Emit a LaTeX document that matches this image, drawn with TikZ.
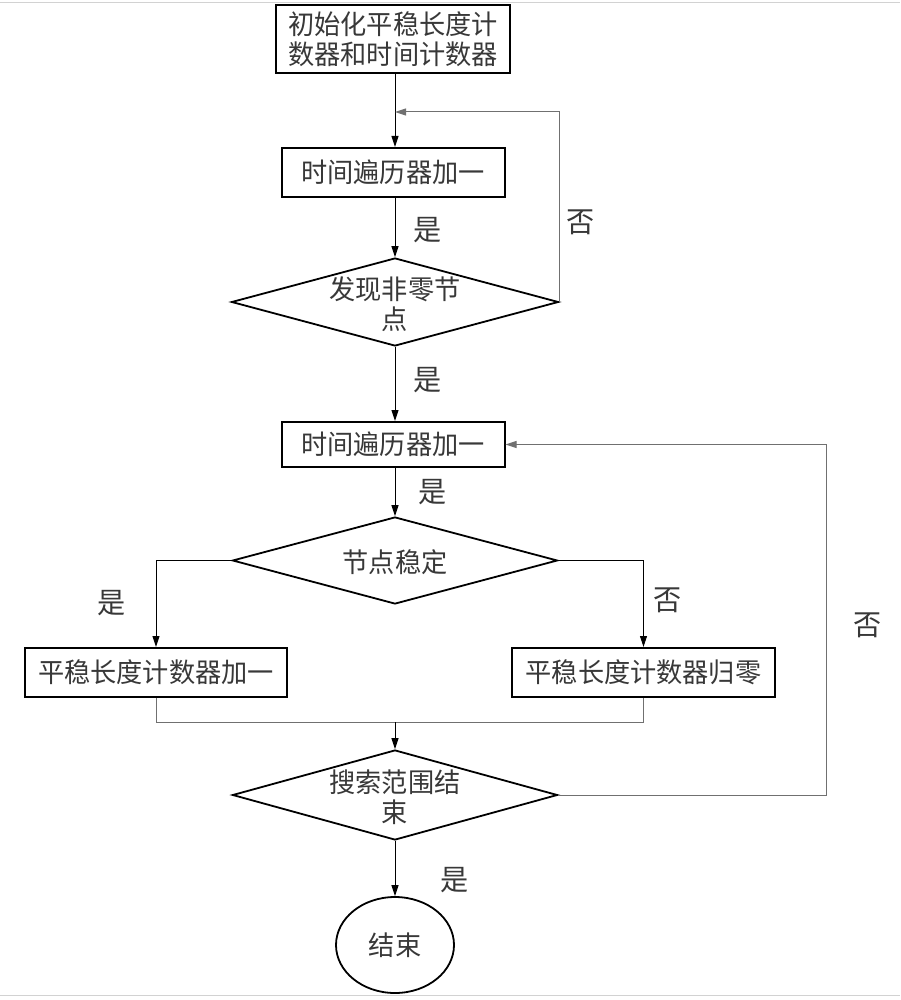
\documentclass[tikz,border=0pt]{standalone}
\usepackage{fontspec}
\usetikzlibrary{shapes.geometric,arrows.meta}
\newfontfamily\cjk[FakeStretch=0.97]{Noto Sans CJK SC}
\definecolor{txtc}{HTML}{383838}
\definecolor{linec}{HTML}{707070}
\begin{document}
\begin{tikzpicture}[x=1pt,y=-1pt,
  every node/.style={font=\cjk\fontsize{27pt}{30pt}\selectfont, text=txtc},
  box/.style={draw=black, line width=2pt, rectangle, inner sep=0pt, align=center},
  dia/.style={draw=black, line width=1.8pt, diamond, inner sep=0pt},
  txt/.style={align=center, inner sep=0pt},
  arr/.style={draw=black, line width=1pt, -{Triangle[length=11pt,width=7pt]}},
  gline/.style={draw=linec, line width=1pt},
  garr/.style={draw=linec, line width=1pt, -{Triangle[length=11pt,width=7pt]}},
  lbl/.style={inner sep=0pt, font=\cjk\fontsize{29pt}{30pt}\selectfont}]
\useasboundingbox (0,0) rectangle (900,1000);
\fill[white] (0,0) rectangle (900,1000);
% page edge lines
\coordinate (tl) at (0,3); \coordinate (tr) at (900,3);
\coordinate (bl) at (0,995); \coordinate (br) at (900,995);
\draw[gray!35, line width=1pt] (tl) -- (tr);
\draw[gray!35, line width=1pt] (bl) -- (br);

\node[box, minimum width=234pt, minimum height=68pt] (b1) at (393,39) {初始化平稳长度计\\数器和时间计数器};
\node[box, minimum width=223pt, minimum height=49pt] (b2) at (393,172.5) {时间遍历器加一};
\node[dia, minimum width=327pt, minimum height=88pt] (d1) at (395,302) {};
\node[txt] (d1t) at (395,304) {发现非零节\\点};
\node[box, minimum width=223pt, minimum height=45pt] (b3) at (393,444.5) {时间遍历器加一};
\node[dia, minimum width=325pt, minimum height=87pt] (d2) at (395,560.5) {};
\node[txt] (d2t) at (395,562) {节点稳定};
\node[box, minimum width=262pt, minimum height=49pt] (b4) at (156,672.5) {平稳长度计数器加一};
\node[box, minimum width=263pt, minimum height=49pt] (b5) at (643.5,672.5) {平稳长度计数器归零};
\node[dia, minimum width=325pt, minimum height=90pt] (d3) at (395,795) {};
\node[txt] (d3t) at (395,797) {搜索范围结\\束};
\node[draw=black, line width=1.8pt, ellipse, minimum width=118pt, minimum height=96pt, inner sep=0pt] (end) at (395,945) {结束};

% coordinates
\coordinate (j1) at (395,112);
\coordinate (r2) at (826,444.5);
\coordinate (mL) at (156,722);
\coordinate (mR) at (643.5,722);
\coordinate (m) at (395,722);

% connectors
\draw[arr] (b1.south -| j1) -- (b2.north -| j1);
\draw[garr] (d1.east) |- (j1);
\draw[arr] (b2.south -| d1.north) -- (d1.north);
\draw[arr] (d1.south) -- (b3.north -| d1.south);
\draw[arr] (b3.south -| d2.north) -- (d2.north);
\draw[arr] (d2.west) -| (b4.north);
\draw[arr] (d2.east) -| (b5.north);
\draw[gline] (b4.south) -- (mL) -- (mR) -- (b5.south);
\draw[arr] (m) -- (d3.north);
\draw[garr] (d3.east) -| (r2) -- (b3.east);
\draw[arr] (d3.south) -- (end.north);

% labels
\node[lbl] (l1) at (428,230) {是};
\node[lbl] (l2) at (581,222) {否};
\node[lbl] (l3) at (428,380) {是};
\node[lbl] (l4) at (433,492) {是};
\node[lbl] (l5) at (112,603) {是};
\node[lbl] (l6) at (668,600) {否};
\node[lbl] (l7) at (868,625) {否};
\node[lbl] (l8) at (455,880) {是};
\end{tikzpicture}
\end{document}
